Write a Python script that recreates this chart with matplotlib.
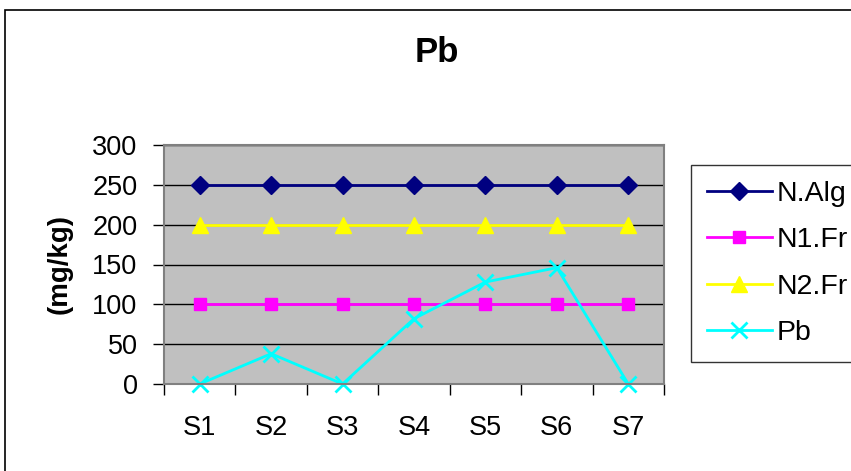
import matplotlib
matplotlib.use("Agg")
import matplotlib.pyplot as plt
from matplotlib.patches import Rectangle

plt.rcParams['font.family'] = ['Liberation Sans', 'DejaVu Sans']

sites = ["S1", "S2", "S3", "S4", "S5", "S6", "S7"]
n_alg = [250, 250, 250, 250, 250, 250, 250]
n1_fr = [100, 100, 100, 100, 100, 100, 100]
n2_fr = [200, 200, 200, 200, 200, 200, 200]
pb = [0, 38, 0, 82, 128, 146, 0]
yticks = [0, 50, 100, 150, 200, 250, 300]

W, H = 851, 471
fig = plt.figure(figsize=(W / 100, H / 100), dpi=100)
fig.patch.set_facecolor("white")

# outer chart border (cut off on right and bottom)
fig.patches.append(Rectangle((5 / W, -0.1), 1.0, (H - 10) / H + 0.1,
                             transform=fig.transFigure, fill=False,
                             edgecolor="black", linewidth=1.2))

ax = fig.add_axes([164 / W, 1 - 384 / H, 500 / W, 239 / H])
ax.set_facecolor("#c0c0c0")
x = list(range(len(sites)))

ax.plot(x, n_alg, color="#000080", marker="D", markersize=9, linewidth=2, label="N.Alg")
ax.plot(x, n1_fr, color="#ff00ff", marker="s", markersize=9, linewidth=2, label="N1.Fr")
ax.plot(x, n2_fr, color="#ffff00", marker="^", markersize=11, linewidth=2, label="N2.Fr")
ax.plot(x, pb, color="#00ffff", marker="x", markersize=11, markeredgewidth=2,
        linewidth=2, label="Pb", clip_on=False)

ax.set_xlim(-0.5, len(sites) - 0.5)
ax.set_ylim(0, 300)
ax.set_yticks(yticks)
ax.set_yticklabels([str(v) for v in yticks], fontsize=19.5)
ax.set_xticks([i - 0.5 for i in range(len(sites) + 1)], minor=False)
ax.set_xticklabels([])
ax.set_xticks(x, minor=True)
ax.set_xticklabels(sites, minor=True, fontsize=19.5)
ax.tick_params(axis="x", which="major", length=8, direction="out", width=1)
ax.tick_params(axis="x", which="minor", length=0, pad=22)
ax.tick_params(axis="y", length=8, direction="out", width=1, pad=11)
ax.grid(axis="y", color="black", linewidth=1)
ax.set_axisbelow(True)
for s in ["top", "right", "left", "bottom"]:
    ax.spines[s].set_color("#808080")
    ax.spines[s].set_linewidth(1.5)

fig.text(60 / W, 1 - 264 / H, "(mg/kg)", fontsize=20, fontweight="bold",
         rotation=90, ha="center", va="center")
fig.text(437 / W, 1 - 52 / H, "Pb", fontsize=25, fontweight="bold",
         ha="center", va="center")

leg = fig.legend(loc="upper left", bbox_to_anchor=(691 / W, 1 - 165 / H),
                 fontsize=20.5, frameon=True, fancybox=False, edgecolor="black",
                 handlelength=2.3, handletextpad=0.15, labelspacing=0.72,
                 borderpad=0.55, borderaxespad=0)
leg.get_frame().set_linewidth(1)

fig.savefig("out.png", dpi=100)
